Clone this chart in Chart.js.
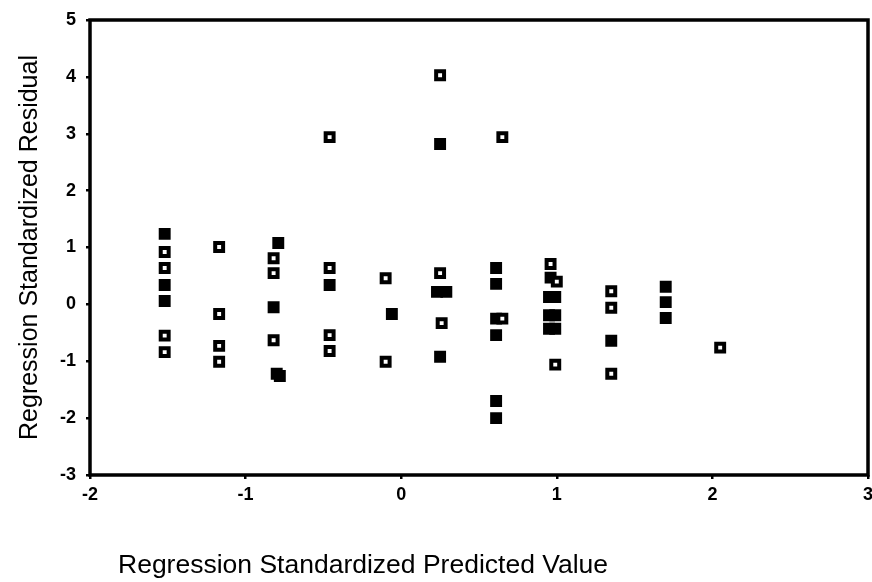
<!DOCTYPE html>
<html>
<head>
<meta charset="utf-8">
<script src="https://cdn.jsdelivr.net/npm/chart.js@4.4.1/dist/chart.umd.min.js"></script>
<style>
    html, body { margin: 0; padding: 0; background: #fff; }
    #wrap { width: 872px; height: 582px; }
</style>
</head>
<body>
<div id="wrap"><canvas id="myChart" width="872" height="582"></canvas></div>
<script>
// single cases (open squares)
const openX = [-1.52, -1.52, -1.52, -1.52,
               -1.17, -1.17, -1.17, -1.17,
               -0.82, -0.82, -0.82,
               -0.46, -0.46, -0.46, -0.46,
               -0.10, -0.10,
               0.25, 0.25, 0.26,
               0.65, 0.65,
               0.96, 1.00, 0.99,
               1.35, 1.35, 1.35,
               2.05];
const openY = [0.92, 0.64, -0.55, -0.84,
               1.01, -0.17, -0.73, -1.01,
               0.81, 0.55, -0.63,
               2.94, 0.64, -0.54, -0.82,
               0.46, -1.01,
               4.03, 0.55, -0.33,
               2.94, -0.25,
               0.71, 0.40, -1.06,
               0.23, -0.06, -1.22,
               -0.76];

// overlapping cases (filled squares)
const fillX = [-1.52, -1.52, -1.52,
               -0.82, -0.79, -0.80, -0.78,
               -0.46,
               -0.06,
               0.25, 0.23, 0.29, 0.25,
               0.61, 0.61, 0.61, 0.61, 0.61, 0.61,
               0.96, 0.95, 0.99, 0.95, 0.99, 0.95, 0.99,
               1.35,
               1.70, 1.70, 1.70];
const fillY = [1.24, 0.34, 0.06,
               -0.05, 1.08, -1.22, -1.26,
               0.34,
               -0.17,
               2.82, 0.22, 0.22, -0.92,
               0.64, 0.36, -0.25, -0.54, -1.70, -2.00,
               0.47, 0.13, 0.13, -0.19, -0.19, -0.43, -0.43,
               -0.64,
               0.31, 0.04, -0.24];

const xTicks = [-2, -1, 0, 1, 2, 3];
const yTicks = [-3, -2, -1, 0, 1, 2, 3, 4, 5];

const xTitle = 'Regression Standardized Predicted Value';
const yTitle = 'Regression Standardized Residual';

const toPoints = (xs, ys) => xs.map((x, i) => ({x: x, y: ys[i]}));

const fontFamily = '"Liberation Sans", Arial, sans-serif';

// plot area is fixed by layout padding, so the edge labels may overhang
const noPadding = () => ({left: 0, top: 0, right: 0, bottom: 0});

// box round the plot area and the x caption under it
const framePlugin = {
    id: 'frame',
    afterDraw(chart) {
        const {ctx, chartArea: a} = chart;
        ctx.save();
        ctx.strokeStyle = '#000';
        ctx.lineWidth = 3.5;
        ctx.strokeRect(a.left, a.top, a.right - a.left, a.bottom - a.top);
        ctx.fillStyle = '#000';
        ctx.font = '26.5px ' + fontFamily;
        ctx.textAlign = 'left';
        ctx.textBaseline = 'middle';
        ctx.fillText(xTitle, a.left + 28, a.bottom + 91);
        ctx.restore();
    }
};

const data = {
    datasets: [
        {
            label: 'cases',
            data: toPoints(openX, openY),
            pointStyle: 'rect',
            pointRadius: 5.6,
            pointBorderWidth: 4,
            pointBackgroundColor: '#fff',
            pointBorderColor: '#000'
        },
        {
            label: 'overlap',
            data: toPoints(fillX, fillY),
            pointStyle: 'rect',
            pointRadius: 5.6,
            pointBorderWidth: 4,
            pointBackgroundColor: '#000',
            pointBorderColor: '#000'
        }
    ]
};

const conf = {
    type: 'scatter',
    data: data,
    options: {
        responsive: false,
        animation: false,
        clip: false,
        layout: {
            autoPadding: false,
            padding: {top: 20, right: 4, bottom: 0, left: 0}
        },
        plugins: {
            legend: {display: false},
            tooltip: {enabled: false}
        },
        scales: {
            x: {
                type: 'linear',
                min: -2,
                max: 3,
                afterBuildTicks: s => { s.ticks = xTicks.map(v => ({value: v})); },
                afterFit: s => {
                    s.height = 107;
                    s.paddingLeft = s.paddingRight = 0;
                    s.getPadding = noPadding;
                },
                grid: {
                    display: true,
                    drawOnChartArea: false,
                    drawTicks: true,
                    tickLength: 4,
                    color: '#000',
                    lineWidth: 2.5
                },
                border: {display: false},
                ticks: {
                    color: '#000',
                    padding: 5,
                    maxRotation: 0,
                    font: {family: fontFamily, size: 18, weight: 'bold'}
                }
            },
            y: {
                type: 'linear',
                min: -3,
                max: 5,
                afterBuildTicks: s => { s.ticks = yTicks.map(v => ({value: v})); },
                afterFit: s => {
                    s.width = 90;
                    s.paddingTop = s.paddingBottom = 0;
                    s.getPadding = noPadding;
                },
                grid: {
                    display: true,
                    drawOnChartArea: false,
                    drawTicks: true,
                    tickLength: 4,
                    color: '#000',
                    lineWidth: 2.5
                },
                border: {display: false},
                ticks: {
                    color: '#000',
                    padding: 10,
                    font: {family: fontFamily, size: 18, weight: 'bold'}
                },
                title: {
                    display: true,
                    text: yTitle,
                    color: '#000',
                    padding: {top: 15, bottom: 0},
                    font: {family: fontFamily, size: 25}
                }
            }
        }
    },
    plugins: [framePlugin]
};

const ctx = document.getElementById('myChart').getContext('2d');
const chart = new Chart(ctx, conf);
</script>
</body>
</html>
